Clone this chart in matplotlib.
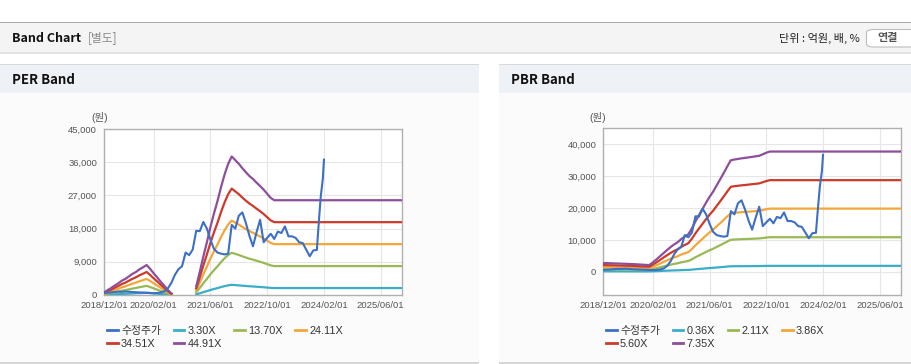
import numpy as np
import matplotlib
matplotlib.use('Agg')
import matplotlib.pyplot as plt
from matplotlib.patches import Rectangle, FancyBboxPatch
from matplotlib.ticker import FuncFormatter

plt.rcParams['font.family'] = ['Liberation Sans', 'Noto Sans CJK KR']

# months counted from 2018/12
tick_pos = [0, 14, 30, 46, 62, 78]
tick_labels = ['2018/12/01', '2020/02/01', '2021/06/01', '2022/10/01', '2024/02/01', '2025/06/01']

price_month = [0, 1, 2, 3, 4, 5, 6, 7, 8, 9, 10, 11, 12, 13, 14, 15, 16, 17, 18, 19,
               20, 21, 22, 23, 24, 25, 26, 27, 28, 29, 30, 31, 32, 33, 34, 35, 36, 37, 38, 39,
               40, 41, 42, 43, 44, 45, 46, 47, 48, 49, 50, 51, 52, 53, 54, 55, 56, 57, 58, 59,
               60, 60.6, 61.1, 61.7, 62]
price = [600, 650, 700, 800, 900, 850, 950, 900, 800, 750, 700, 650, 600, 550, 500, 550, 700, 1000, 1800, 3300,
         5500, 7000, 7800, 11500, 10800, 12300, 17400, 17300, 19800, 18000, 15000, 12500, 11500, 11200, 11000, 11200, 19000, 18000, 21500, 22400,
         19500, 16000, 13200, 17000, 20400, 14300, 15500, 16600, 15200, 17200, 16800, 18600, 15900, 15900, 15500, 14300, 14100, 12300, 10500, 12100,
         12200, 20400, 26700, 31700, 36700]

per_month = [0, 1, 2, 3, 4, 5, 6, 7, 8, 9, 10, 11, 12, 13, 14, 15, 16, 17, 18, 19, 22,
             26, 27, 28, 29, 30, 31, 32, 33, 34, 35, 36, 37, 38, 39, 40, 41, 42, 43, 44, 45, 46, 47, 48, 84]
per_eps = [15, 29, 42, 57, 70, 86, 97, 112, 127, 139, 155, 167, 181, 158, 131, 106, 80, 56, 30, 10, np.nan,
           52, 140, 232, 318, 410, 492, 568, 652, 728, 792, 836, 814, 792, 765, 741, 718, 700, 678, 658, 636, 611, 586, 572, 572]
per_mult = [3.30, 13.70, 24.11, 34.51, 44.91]

pbr_month = list(range(48)) + [84]
pbr_bps = [370, 368, 362, 356, 351, 345, 340, 334, 328, 320, 311, 302, 292, 285, 400, 528, 660, 795, 925, 1055,
           1165, 1262, 1395, 1500, 1600, 1850, 2150, 2420, 2680, 2950, 3200, 3420, 3690, 3950, 4220, 4500, 4760, 4790, 4815, 4840,
           4860, 4880, 4905, 4925, 4950, 5015, 5080, 5130, 5130]
pbr_mult = [0.36, 2.11, 3.86, 5.60, 7.35]

price_color = '#3d6fc4'
band_colors = ['#3aaec8', '#98b954', '#f3a63a', '#cc3a2a', '#8d4f9b']

W, H = 912, 364
fig = plt.figure(figsize=(W / 100, H / 100), dpi=100)


def px_rect(x0, y0, x1, y1, z=-5, **kw):
    # rectangle given in pixel coords, origin top-left
    r = Rectangle((x0 / W, 1 - y1 / H), (x1 - x0) / W, (y1 - y0) / H,
                  transform=fig.transFigure, zorder=z, **kw)
    fig.add_artist(r)
    return r


def px_text(x, y, s, **kw):
    fig.text(x / W, 1 - y / H, s, **kw)


# page background
px_rect(0, 0, W, H, z=-10, facecolor='white', edgecolor='none')
# top header bar
px_rect(0, 22, W, 52, facecolor='#f4f4f4', edgecolor='none')
px_rect(0, 21.5, W, 22.5, facecolor='#aaaaaa', edgecolor='none')
px_rect(0, 52, W, 54, facecolor='#e2e2e2', edgecolor='none')
px_text(12, 38, 'Band Chart', fontsize=9, fontweight='bold', color='#111111',
        family=['Noto Sans CJK KR'], va='center')
px_text(88, 38, '[별도]', fontsize=8.5, color='#8a8a8a', family=['Noto Sans CJK KR'], va='center')
px_text(860, 38, '단위 : 억원, 배, %', fontsize=8, color='#222222',
        family=['Noto Sans CJK KR'], va='center', ha='right')
btn = FancyBboxPatch((866.5 / W, 1 - 47 / H), 50 / W, 17.5 / H,
                     boxstyle='round,pad=0,rounding_size=0.008',
                     transform=fig.transFigure, facecolor='white', edgecolor='#bdbdbd', lw=0.8, zorder=-4)
fig.add_artist(btn)
px_text(888, 38, '연결', fontsize=8, fontweight='bold', color='#555555',
        family=['Noto Sans CJK KR'], va='center', ha='center')

# panels
for x0, x1, title in [(0, 479, 'PER Band'), (499, W, 'PBR Band')]:
    px_rect(x0, 92.5, x1, 362, facecolor='#fbfbfb', edgecolor='none')
    px_rect(x0, 64, x1, 92.5, facecolor='#eef1f6', edgecolor='none')
    px_rect(x0, 63.5, x1, 65, facecolor='#d9d9d9', edgecolor='none')
    px_rect(x0, 362, x1, 363.5, facecolor='#d6d6d6', edgecolor='none')
    px_text(x0 + 12, 80, title, fontsize=9.5, fontweight='bold', color='#111111',
            family=['Noto Sans CJK KR'], va='center')


def style_axes(ax):
    ax.set_facecolor('white')
    for sp in ax.spines.values():
        sp.set_color('#b0b0b0')
        sp.set_linewidth(1.0)
    ax.grid(True, color='#e6e6e6', lw=0.8)
    ax.set_axisbelow(True)
    ax.tick_params(length=0, labelsize=6.8, labelcolor='#555555')
    ax.tick_params(axis='y', pad=5)
    ax.tick_params(axis='x', pad=4)
    ax.set_xticks(tick_pos)
    ax.set_xticklabels(tick_labels)
    ax.set_xlim(0, 84)
    ax.yaxis.set_major_formatter(FuncFormatter(lambda v, _: f'{v:,.0f}'))


def draw_panel(ax, band_month, base, mults, yticks, ylim, leg_x):
    style_axes(ax)
    lines = ax.plot(price_month, price, color=price_color, lw=1.5, label='수정주가', zorder=4)
    b = np.array(base, dtype=float)
    for m, c in zip(mults, band_colors):
        lines += ax.plot(band_month, b * m, color=c, lw=1.6, label=f'{m:.2f}X', zorder=3)
    ax.set_yticks(yticks)
    ax.set_ylim(*ylim)
    # legend fills columns first; reorder so that it reads row by row
    order = [0, 4, 1, 5, 2, 3]
    hs = [lines[i] for i in order]
    leg = ax.legend(hs, [h.get_label() for h in hs], loc='upper left',
                    bbox_to_anchor=(leg_x / W, 1 - 326 / H),
                    bbox_transform=fig.transFigure, ncol=4, frameon=False,
                    fontsize=7.8, handlelength=1.0, handletextpad=0.3,
                    columnspacing=1.15, labelspacing=0.3, borderpad=0, borderaxespad=0)
    for t in leg.get_texts():
        t.set_color('#333333')
    for h in leg.legend_handles:
        h.set_linewidth(2)


ax1 = fig.add_axes([104 / W, 1 - 295 / H, 298 / W, 166 / H])
draw_panel(ax1, per_month, per_eps, per_mult, [0, 9000, 18000, 27000, 36000, 45000], (0, 45000), 107)
px_text(100, 118, '(원)', fontsize=7.5, color='#555555', ha='center', va='center')

ax2 = fig.add_axes([603.3 / W, 1 - 295 / H, 297.7 / W, 166.7 / H])
draw_panel(ax2, pbr_month, pbr_bps, pbr_mult, [0, 10000, 20000, 30000, 40000], (-7300, 45000), 606)
px_text(598, 118, '(원)', fontsize=7.5, color='#555555', ha='center', va='center')

fig.savefig('out.png', dpi=100)
